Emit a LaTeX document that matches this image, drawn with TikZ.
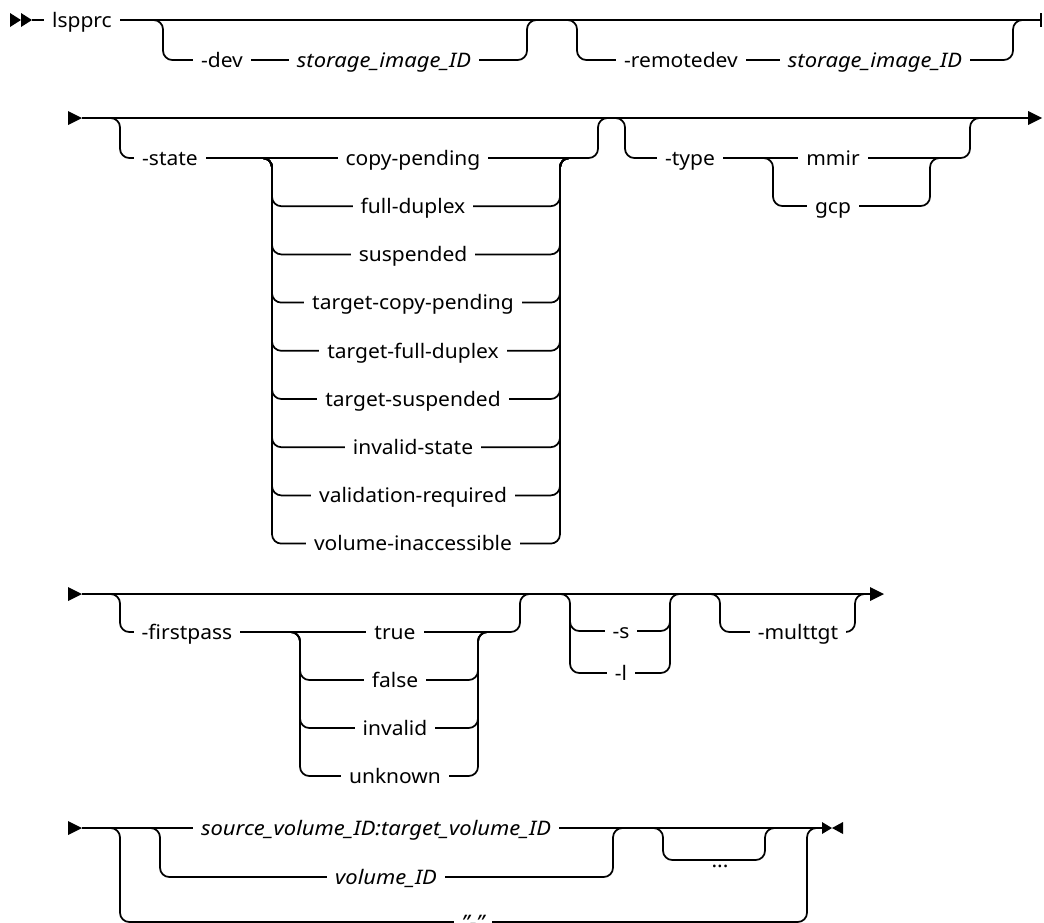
\documentclass[tikz,border=0pt]{standalone}
\usepackage{fontspec}
\setmainfont{Noto Sans}[UprightFeatures={FakeStretch=1.05}, ItalicFeatures={FakeStretch=1.1}]
\usetikzlibrary{backgrounds}

\tikzset{
  rail/.style={line width=1.3pt, rounded corners=7},
  kw/.style={anchor=base, yshift=-5.5pt, fill=white, inner xsep=6pt, inner ysep=2pt,
    font=\fontsize{15}{17}\selectfont},
  var/.style={kw, font=\fontsize{15}{17}\selectfont\itshape},
  tip/.style={fill=black},
}

\begin{document}
\begin{tikzpicture}[x=0.75pt, y=-0.75pt]
  \useasboundingbox (0,0) rectangle (1044,922);

  % row 1: command and devices
  \node[kw] (cmd) at (82,20) {lspprc};
  \node[kw] (dev) at (222,60) {-dev};
  \node[var] (devid) at (384,60) {storage\_image\_ID};
  \node[kw] (rdev) at (681,60) {-remotedev};
  \node[var] (rdevid) at (875,60) {storage\_image\_ID};

  % row 2: state and type
  \node[kw] (state) at (170,158) {-state};
  \foreach \lbl [count=\i from 0] in {copy-pending,full-duplex,suspended,target-copy-pending,
      target-full-duplex,target-suspended,invalid-state,validation-required,volume-inaccessible}
    \node[kw] (st\i) at (413,158+48.2*\i) {\lbl};
  \node[kw] (type) at (690,158) {-type};
  \node[kw] (mmir) at (833,158) {mmir};
  \node[kw] (gcp) at (833,206) {gcp};

  % row 3: first pass, -s/-l, multtgt
  \node[kw] (fpass) at (187,632) {-firstpass};
  \foreach \lbl [count=\i from 0] in {true,false,invalid,unknown}
    \node[kw] (fp\i) at (395,632+48*\i) {\lbl};
  \node[kw] (sopt) at (621,631) {-s};
  \node[kw] (lopt) at (621,673) {-l};
  \node[kw] (mtgt) at (798,632) {-multtgt};

  % row 4: volumes
  \node[var] (srcvol) at (376,828) {source\_volume\_ID:target\_volume\_ID};
  \node[var] (vol) at (386,877) {volume\_ID};
  \node[kw] (dots) at (720,860) {...};
  \node[var] (dash) at (473,922) {"-"};

  \begin{scope}[on background layer]
    % row 1
    \fill[tip] (10,13) -- (21,20) -- (10,27) -- cycle;
    \fill[tip] (21,13) -- (32,20) -- (21,27) -- cycle;
    \draw[rail] (32,20) -- (1041,20);
    \draw[line width=2pt] (1041,13) -- (1041,27);
    \draw[rail] (150,20) -- (163,20) -- (163,60) -- (527,60) -- (527,20) -- (540,20);
    \draw[rail] (565,20) -- (577,20) -- (577,60) -- (1013,60) -- (1013,20) -- (1025,20);
    % row 2
    \fill[tip] (68,111) -- (82,118) -- (68,125) -- cycle;
    \draw[rail] (82,118) -- (1028,118);
    \fill[tip] (1028,111) -- (1042,118) -- (1028,125) -- cycle;
    \draw[rail] (108,118) -- (120,118) -- (120,158) -- (598,158) -- (598,118) -- (610,118);
    \foreach \i in {1,...,8}
      \draw[rail] (262,158) -- (272,158) -- (272,158+48.2*\i) -- (560,158+48.2*\i)
        -- (560,158) -- (570,158);
    \draw[rail] (613,118) -- (625,118) -- (625,158) -- (970,158) -- (970,118) -- (982,118);
    \draw[rail] (763,158) -- (773,158) -- (773,206) -- (930,206) -- (930,158) -- (940,158);
    % row 3
    \fill[tip] (68,587) -- (82,594) -- (68,601) -- cycle;
    \draw[rail] (82,594) -- (870,594);
    \fill[tip] (870,587) -- (884,594) -- (870,601) -- cycle;
    \draw[rail] (108,594) -- (120,594) -- (120,632) -- (520,632) -- (520,594) -- (532,594);
    \foreach \i in {1,2,3}
      \draw[rail] (290,632) -- (300,632) -- (300,632+48*\i) -- (478,632+48*\i)
        -- (478,632) -- (488,632);
    \draw[rail] (558,594) -- (570,594) -- (570,631) -- (670,631) -- (670,594) -- (682,594);
    \draw[rail] (570,615) -- (570,673) -- (670,673) -- (670,615);
    \draw[rail] (708,594) -- (720,594) -- (720,632) -- (855,632) -- (855,594) -- (867,594);
    % row 4
    \fill[tip] (68,821) -- (82,828) -- (68,835) -- cycle;
    \draw[rail] (82,828) -- (822,828);
    \fill[tip] (822,822) -- (832,828) -- (822,834) -- cycle;
    \fill[tip] (843,822) -- (832,828) -- (843,834) -- cycle;
    \draw[rail] (150,828) -- (160,828) -- (160,877) -- (613,877) -- (613,828) -- (625,828);
    \draw[rail] (651,828) -- (663,828) -- (663,860) -- (765,860) -- (765,828) -- (777,828);
    \draw[rail] (108,828) -- (120,828) -- (120,922) -- (807,922) -- (807,828) -- (819,828);
  \end{scope}
\end{tikzpicture}
\end{document}
